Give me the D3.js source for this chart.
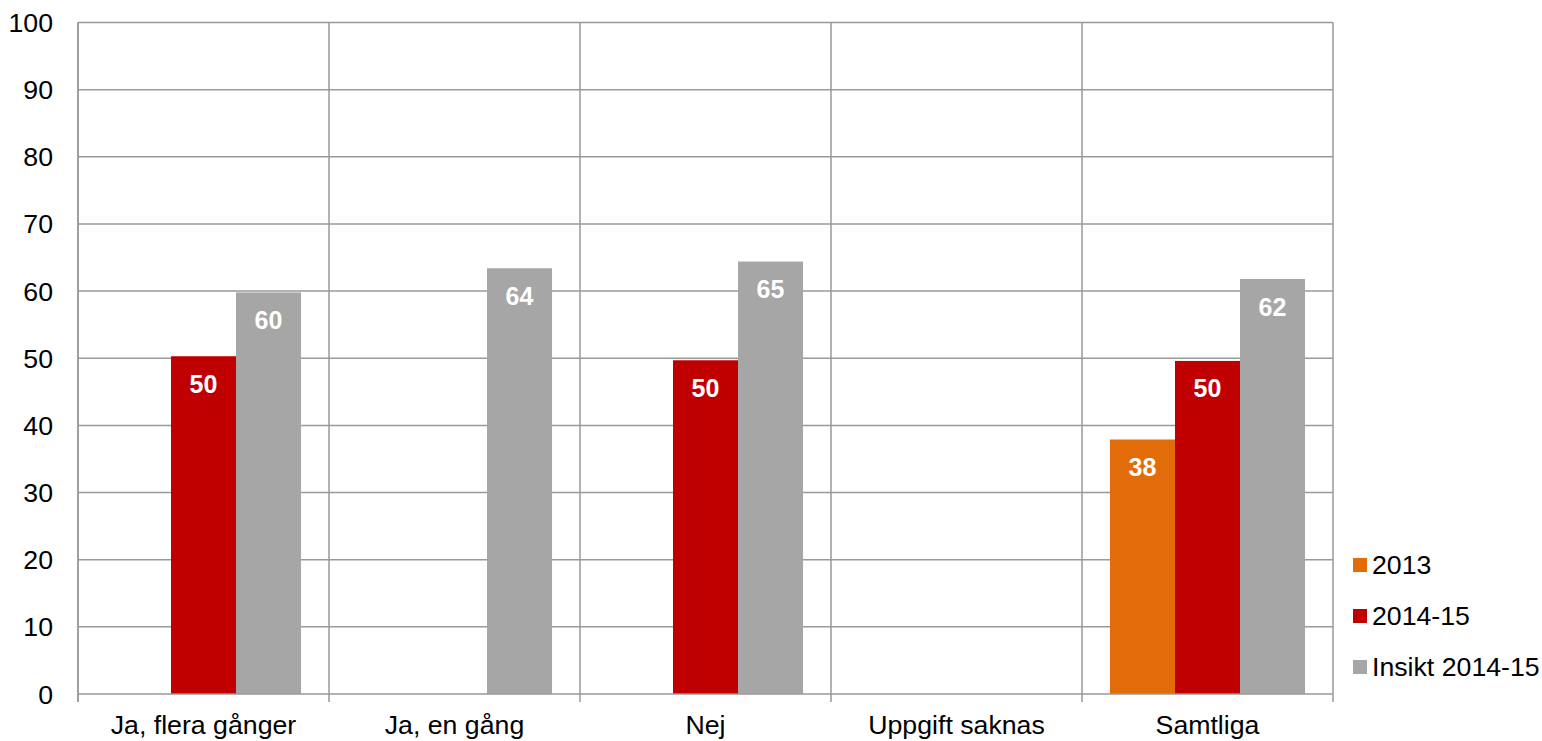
<!DOCTYPE html>
<html><head><meta charset="utf-8">
<script src="https://cdn.jsdelivr.net/npm/d3@7"></script>
<style>body{margin:0;background:#fff;}svg{display:block;font-family:"Liberation Sans",Arial,sans-serif;}</style>
</head><body><svg id="c" width="1542" height="741"></svg>
<script>
const categories = ["Ja, flera gånger","Ja, en gång","Nej","Uppgift saknas","Samtliga"];
const seriesNames = ["2013","2014-15","Insikt 2014-15"];
const values2013 = [null,null,null,null,37.9];
const values2014 = [50.3,null,49.7,null,49.6];
const valuesInsikt = [59.8,63.4,64.4,null,61.8];
const labels2013 = [null,null,null,null,"38"];
const labels2014 = ["50",null,"50",null,"50"];
const labelsInsikt = ["60","64","65",null,"62"];
const yTicks = [0,10,20,30,40,50,60,70,80,90,100];
const colors = ["#E36C0A","#C00000","#A6A6A6"];

const svg = d3.select("#c");
const L=78, R=1333, T=22.5, B=694;
const x = d3.scaleBand().domain(categories).range([L,R]).paddingInner(0).paddingOuter(0);
const xs = d3.scaleBand().domain(seriesNames).range([0,x.bandwidth()]).paddingInner(0).paddingOuter(0.43);
const y = d3.scaleLinear().domain([0,100]).range([B,T]);
const gridC="#999999";

svg.append("g").selectAll("line").data(yTicks.filter(d=>d>0)).join("line")
 .attr("x1",L).attr("x2",R).attr("y1",d=>y(d)).attr("y2",d=>y(d))
 .attr("stroke",gridC).attr("stroke-width",1.5);
const bounds = categories.map(c=>x(c)).concat([R]);
svg.append("g").selectAll("line").data(bounds).join("line")
 .attr("x1",d=>d).attr("x2",d=>d).attr("y1",T).attr("y2",B+8)
 .attr("stroke",gridC).attr("stroke-width",1.5);

const series = [
 {name:seriesNames[0], vals:values2013, labs:labels2013, color:colors[0]},
 {name:seriesNames[1], vals:values2014, labs:labels2014, color:colors[1]},
 {name:seriesNames[2], vals:valuesInsikt, labs:labelsInsikt, color:colors[2]}
];
series.forEach(s=>{
  const data = categories.map((c,i)=>({c, v:s.vals[i], l:s.labs[i]})).filter(d=>d.v!=null);
  svg.append("g").selectAll("rect").data(data).join("rect")
   .attr("x",d=>x(d.c)+xs(s.name)).attr("width",xs.bandwidth())
   .attr("y",d=>y(d.v)).attr("height",d=>B-y(d.v)).attr("fill",s.color);
  svg.append("g").selectAll("text").data(data).join("text")
   .attr("x",d=>x(d.c)+xs(s.name)+xs.bandwidth()/2).attr("y",d=>y(d.v)+36.5)
   .attr("text-anchor","middle").attr("fill","#fff").attr("font-weight","bold")
   .attr("font-size",25).text(d=>d.l);
});

svg.append("line").attr("x1",L).attr("x2",R).attr("y1",B).attr("y2",B).attr("stroke",gridC).attr("stroke-width",1.5);
svg.append("line").attr("x1",L).attr("x2",L).attr("y1",T).attr("y2",B+8).attr("stroke",gridC).attr("stroke-width",1.5);

svg.append("g").selectAll("text").data(yTicks).join("text")
 .attr("x",53).attr("y",d=>y(d)+9.5).attr("text-anchor","end").attr("font-size",26.7).attr("fill","#000").text(d=>d);
svg.append("g").selectAll("text").data(categories).join("text")
 .attr("x",d=>x(d)+x.bandwidth()/2).attr("y",733.5).attr("text-anchor","middle").attr("font-size",26.7).attr("fill","#000").text(d=>d);

const lg = svg.append("g").selectAll("g").data(series).join("g")
 .attr("transform",(d,i)=>`translate(1353,${565+i*51})`);
lg.append("rect").attr("x",0).attr("y",-7).attr("width",14).attr("height",14).attr("fill",d=>d.color);
lg.append("text").attr("x",19).attr("y",8.5).attr("font-size",26.7).attr("fill","#000").text(d=>d.name);
</script></body></html>
